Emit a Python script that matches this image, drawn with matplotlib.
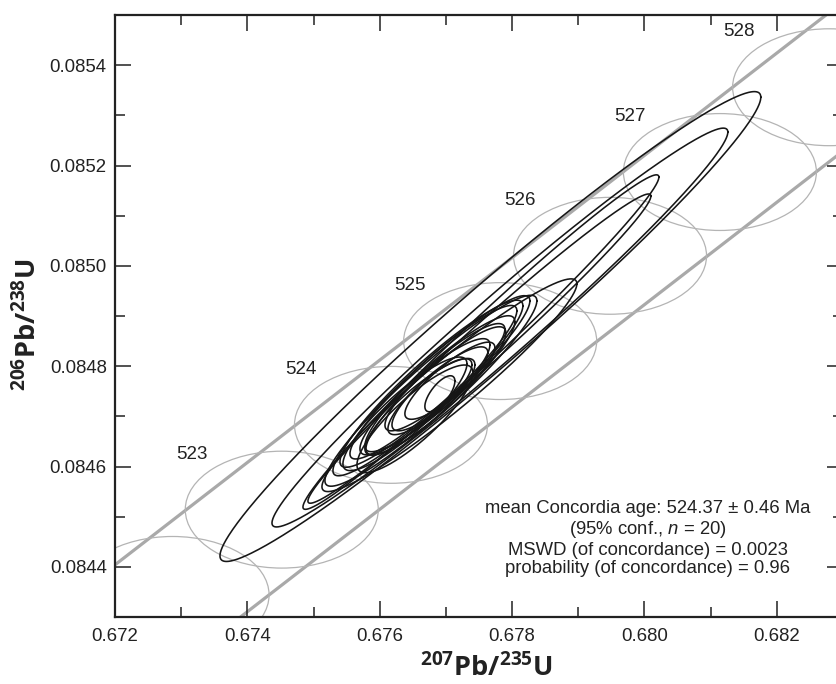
import numpy as np
import matplotlib
matplotlib.use("Agg")
import matplotlib.pyplot as plt
from matplotlib.patches import Ellipse
from matplotlib.ticker import MultipleLocator, FormatStrFormatter

plt.rcParams['font.family'] = ['Liberation Sans', 'DejaVu Sans']
plt.rcParams['mathtext.fontset'] = 'custom'
plt.rcParams['mathtext.rm'] = 'Liberation Sans'
plt.rcParams['mathtext.it'] = 'Liberation Sans:italic'
plt.rcParams['mathtext.bf'] = 'Open Sans:bold'

# Concordia age ticks (Ma) and their positions on the concordia curve
tick_ages = [522, 523, 524, 525, 526, 527, 528]
tick_x = [0.67287, 0.67452, 0.67617, 0.67782, 0.67948, 0.68114, 0.68279]
tick_y = [0.084344, 0.084514, 0.084683, 0.084850, 0.085020, 0.085187, 0.085356]
# decay-constant uncertainty at each age tick (half-widths)
tick_err_x = 0.001458
tick_err_y = 0.0001165

# Analyses: centre, x / y half-extent of the 2-sigma ellipse, error correlation
ell_x = [0.677672, 0.677816, 0.677529, 0.677506, 0.677053, 0.676773, 0.676781,
         0.676781, 0.676811, 0.676909, 0.676849, 0.676683, 0.676985, 0.676607,
         0.676879, 0.676381, 0.677060, 0.676789, 0.676532, 0.676909]
ell_y = [0.084879, 0.084877, 0.084848, 0.084835, 0.084762, 0.084751, 0.084761,
         0.084765, 0.084768, 0.084765, 0.084751, 0.084739, 0.084778, 0.084719,
         0.084751, 0.084705, 0.084771, 0.084743, 0.084695, 0.084745]
ell_dx = [0.004086, 0.003444, 0.002689, 0.002591, 0.001926, 0.001601, 0.001488,
          0.001382, 0.001261, 0.001133, 0.001057, 0.000982, 0.000906, 0.000831,
          0.000755, 0.000937, 0.000680, 0.000604, 0.000876, 0.000227]
ell_dy = [0.0004683, 0.0003975, 0.0003334, 0.0003082, 0.0002120, 0.0001903,
          0.0001795, 0.0001665, 0.0001530, 0.0001355, 0.0001275, 0.0001158,
          0.0001069, 0.0000964, 0.0000875, 0.0001132, 0.0000769, 0.0000719,
          0.0001073, 0.0000359]
ell_rho = [0.976, 0.980, 0.986, 0.986, 0.954, 0.942, 0.943, 0.933, 0.931, 0.912,
           0.906, 0.895, 0.894, 0.868, 0.866, 0.880, 0.855, 0.832, 0.854, 0.70]

result_lines = [
    "mean Concordia age: 524.37 \u00b1 0.46 Ma",
    "(95% conf., $n$ = 20)",
    "MSWD (of concordance) = 0.0023",
    "probability (of concordance) = 0.96",
]

fig = plt.figure(figsize=(8.37, 6.84), dpi=100)
ax = fig.add_axes([115 / 837, 67 / 684, 728 / 837, 602 / 684])
ax.set_xlim(0.672, 0.683)
ax.set_ylim(0.0843, 0.0855)

band_color = '#a9a9a9'
# concordia band edges
ax.axline((tick_x[0] - tick_err_x, tick_y[0]), (tick_x[-1] - tick_err_x, tick_y[-1]),
          color=band_color, lw=2.3, zorder=1)
ax.axline((tick_x[0] + tick_err_x, tick_y[0]), (tick_x[-1] + tick_err_x, tick_y[-1]),
          color=band_color, lw=2.3, zorder=1)

# age-tick ellipses with labels
for age, x, y in zip(tick_ages, tick_x, tick_y):
    ax.add_patch(Ellipse((x, y), 2 * tick_err_x, 2 * tick_err_y, fill=False,
                         edgecolor='#b4b4b4', lw=0.9, zorder=1))
    ax.annotate(str(age), (x, y), xytext=(-65, 40), textcoords='offset points',
                ha='center', va='center', fontsize=13.5, color='#222222',
                clip_on=True, annotation_clip=False)

# data-point error ellipses
t = np.linspace(0, 2 * np.pi, 600)
for cx, cy, dx, dy, r in zip(ell_x, ell_y, ell_dx, ell_dy, ell_rho):
    xs = cx + dx * np.cos(t)
    ys = cy + dy * (r * np.cos(t) + np.sqrt(1 - r * r) * np.sin(t))
    ax.plot(xs, ys, color='#161616', lw=1.15, zorder=3)

ax.text(0.732, 0.13, "\n".join(result_lines), transform=ax.transAxes,
        ha='center', va='center', multialignment='center', fontsize=13.3,
        color='#222222', linespacing=1.13)

# axes styling
for s in ax.spines.values():
    s.set_linewidth(1.6)
    s.set_color('#222222')
ax.xaxis.set_major_locator(MultipleLocator(0.002))
ax.xaxis.set_minor_locator(MultipleLocator(0.001))
ax.yaxis.set_major_locator(MultipleLocator(0.0002))
ax.yaxis.set_minor_locator(MultipleLocator(0.0001))
ax.xaxis.set_major_formatter(FormatStrFormatter('%.3f'))
ax.yaxis.set_major_formatter(FormatStrFormatter('%.4f'))
ax.tick_params(which='both', direction='in', top=True, right=True,
               colors='#222222', labelsize=13.4, width=1.1)
ax.tick_params(which='major', length=11.3)
ax.tick_params(which='minor', length=7)
ax.tick_params(axis='x', which='major', pad=8)
ax.tick_params(axis='y', which='major', pad=6)

ax.set_xlabel(r'$\mathbf{^{207}Pb/^{235}U}$', fontsize=19.5, color='#222222')
ax.set_ylabel(r'$\mathbf{^{206}Pb/^{238}U}$', fontsize=19.5, color='#222222')
ax.xaxis.set_label_coords(0.51, -0.084)
ax.yaxis.set_label_coords(-0.12, 0.485)
ax.xaxis.label.set_va('center')
ax.yaxis.label.set_va('center')

fig.savefig('out.png', dpi=100)
